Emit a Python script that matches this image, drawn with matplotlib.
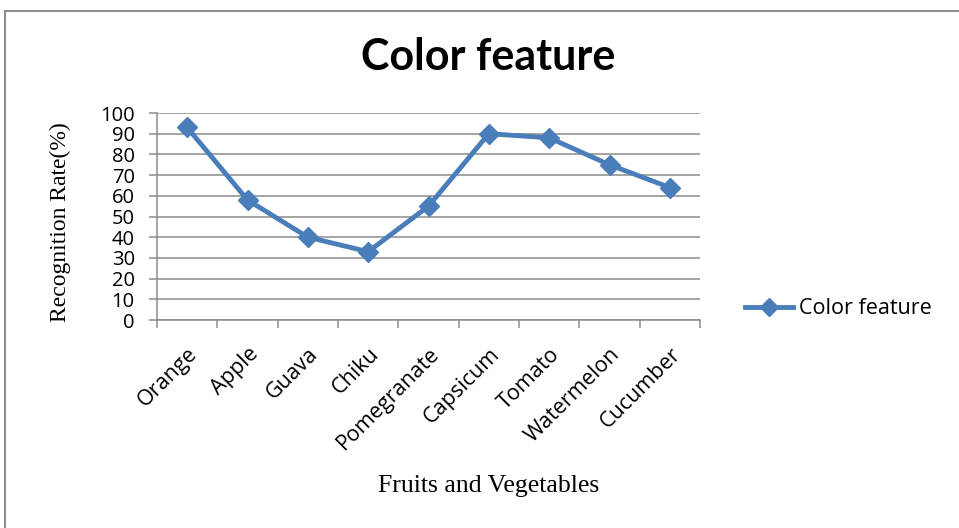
import matplotlib
matplotlib.use("Agg")
import matplotlib.pyplot as plt
from matplotlib.patches import Rectangle
from matplotlib.lines import Line2D

# data
categories = ["Orange", "Apple", "Guava", "Chiku", "Pomegranate",
              "Capsicum", "Tomato", "Watermelon", "Cucumber"]
rates = [93, 58, 40, 33, 55, 90, 88, 75, 64]
y_ticks = list(range(0, 101, 10))

blue = "#4a7ebb"
grey = "#8c8c8c"
sans = ["Open Sans", "DejaVu Sans"]
serif = ["Liberation Serif", "DejaVu Serif"]

fig = plt.figure(figsize=(9.59, 5.28), dpi=100)

# outer chart frame (only top and left edges are visible in the crop)
fig.patches.append(Rectangle((5 / 959, -0.05), 1.1, (528 - 11) / 528 + 0.05,
                             transform=fig.transFigure, fill=False,
                             edgecolor=grey, linewidth=1.5))

ax = fig.add_axes([157 / 959, (528 - 320) / 528, (700 - 157) / 959, (320 - 113) / 528])

x = list(range(len(categories)))
ax.plot(x, rates, color=blue, linewidth=3.5, marker="D", markersize=10,
        markerfacecolor=blue, markeredgecolor=blue, zorder=3)

ax.set_xlim(-0.5, len(categories) - 0.5)
ax.set_ylim(0, 100)
ax.set_yticks(y_ticks)
ax.set_yticklabels([str(v) for v in y_ticks], family=sans, fontsize=14.5)
ax.yaxis.grid(True, color=grey, linewidth=1.1)
ax.set_axisbelow(True)

# labels at category centres, tick marks at the category boundaries
ax.set_xticks(x)
ax.set_xticklabels(categories, family=sans, fontsize=15.5, rotation=45,
                   ha="right", rotation_mode="anchor")
ax.tick_params(axis="x", which="major", length=0, pad=17)
ax.set_xticks([i - 0.5 for i in range(len(categories) + 1)], minor=True)
ax.tick_params(axis="x", which="minor", length=6, color=grey, width=1.1)
ax.tick_params(axis="y", length=6, color=grey, width=1.1, pad=10)

for s in ["top", "right"]:
    ax.spines[s].set_visible(False)
for s in ["left", "bottom"]:
    ax.spines[s].set_color(grey)
    ax.spines[s].set_linewidth(1.1)

fig.text(488 / 959, 1 - 57 / 528, "Color feature", ha="center", va="center",
         family=["Lato", "DejaVu Sans"], fontweight="bold", fontsize=31)
fig.text(60 / 959, 1 - 222 / 528, "Recognition Rate(%)", rotation=90,
         ha="center", va="center", family=serif, fontsize=17)
fig.text(489 / 959, 1 - 486 / 528, "Fruits and Vegetables", ha="center",
         va="center", family=serif, fontsize=18.5)

handle = Line2D([], [], color=blue, linewidth=3.5, marker="D", markersize=9)
fig.legend([handle], ["Color feature"], loc="center left",
           bbox_to_anchor=(726 / 959, 1 - 309 / 528), frameon=False,
           prop={"family": sans, "size": 15.5}, handlelength=2.2,
           handletextpad=0.3)

fig.savefig("out.png", dpi=100)
